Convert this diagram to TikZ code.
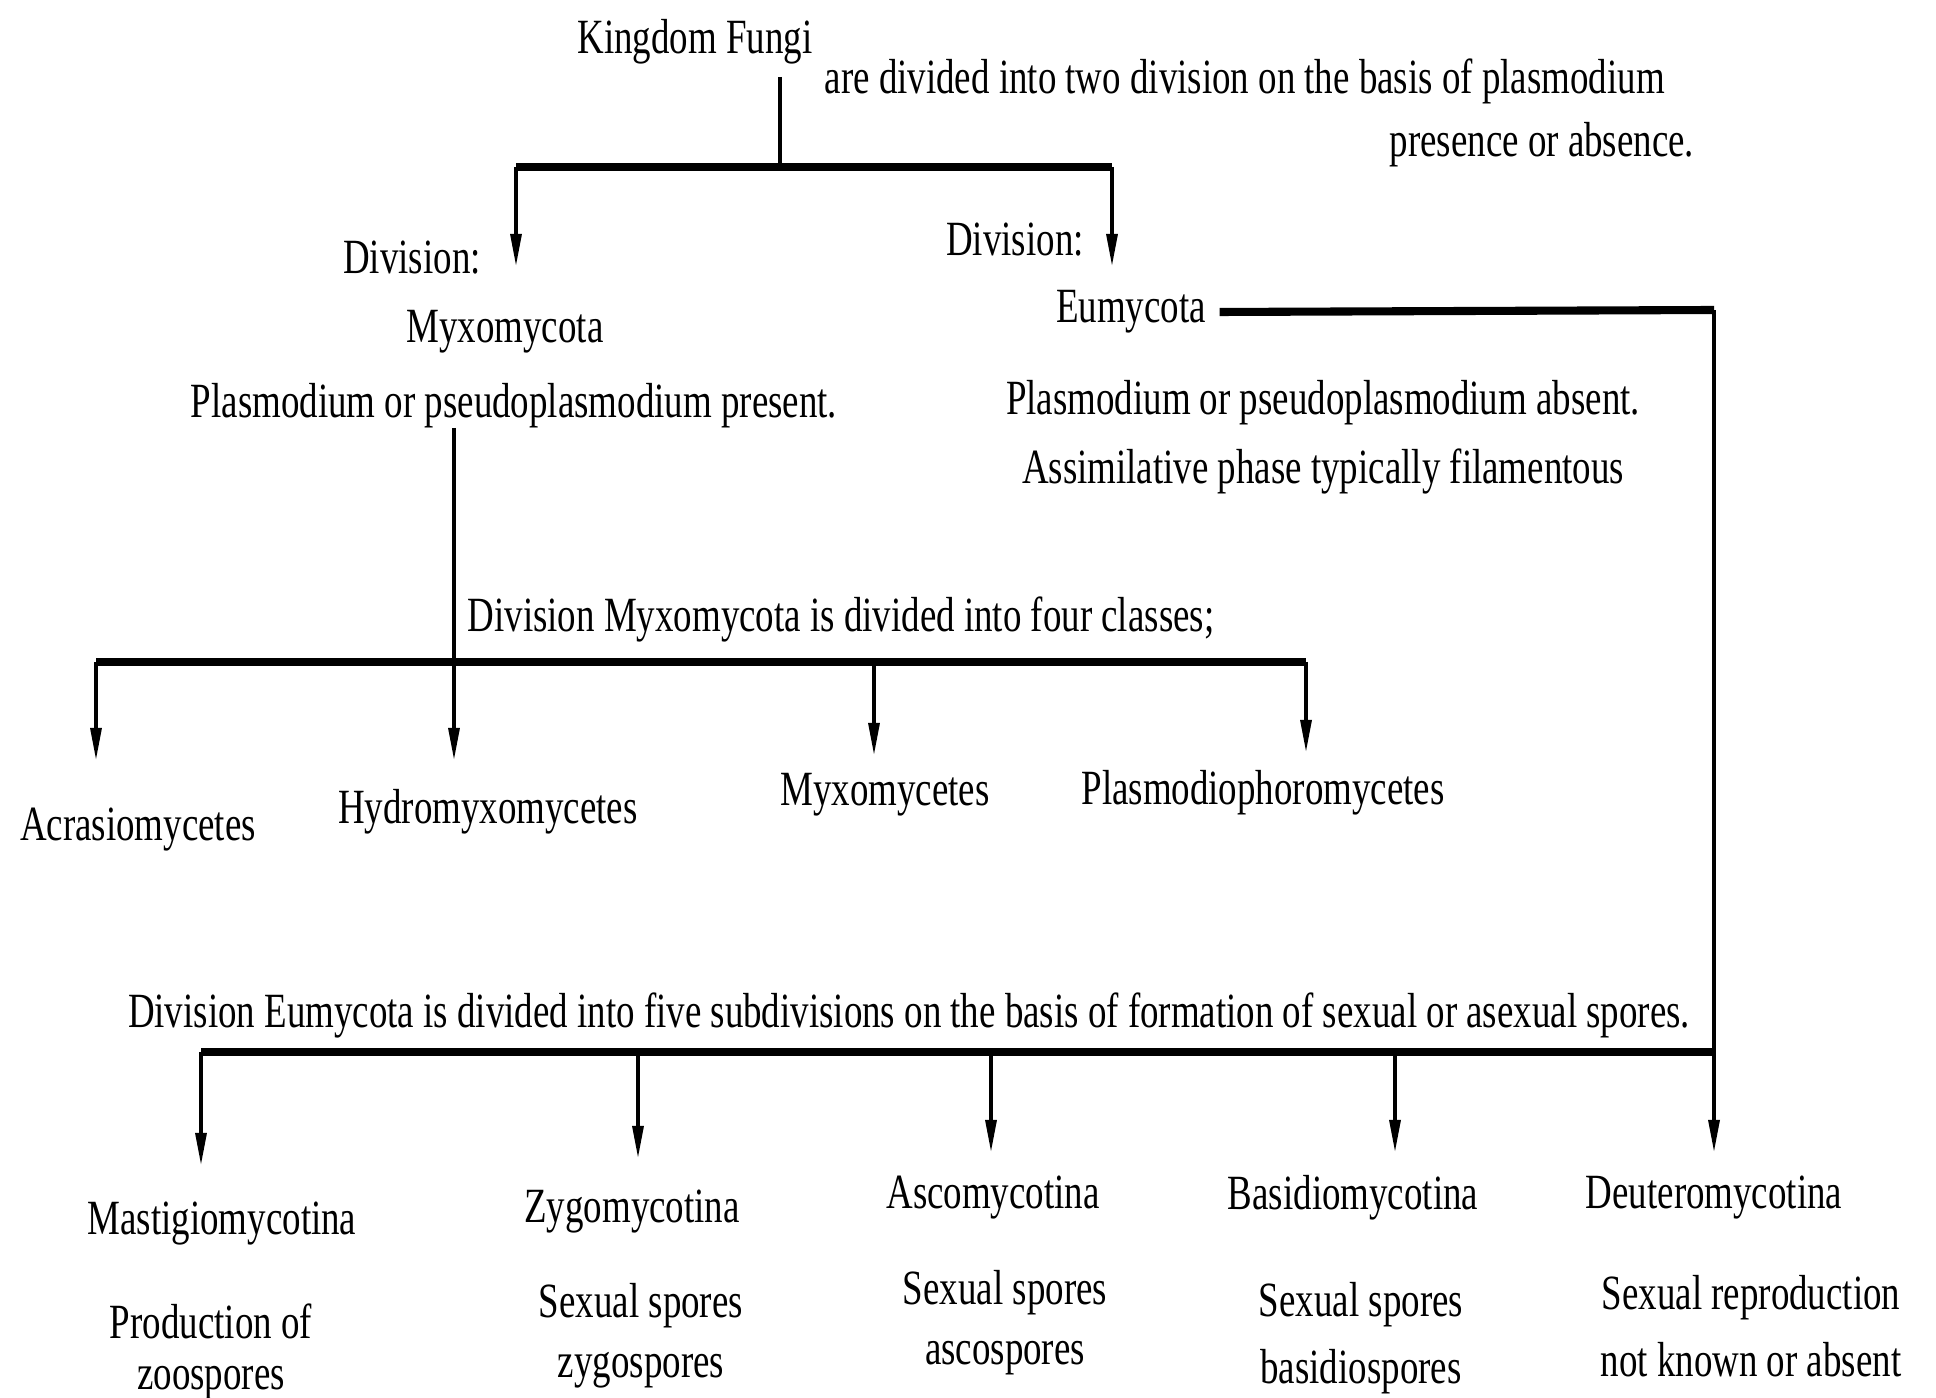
\documentclass[tikz,border=0pt]{standalone}
\usepackage{fontspec}
\setmainfont[FakeStretch=0.75]{Liberation Serif}
\usetikzlibrary{arrows.meta}

\tikzset{
  txt/.style={inner sep=0pt, align=center, yshift=-0.05cm, font=\fontsize{14}{17}\selectfont},
  bar/.style={line width=2.3pt},
  stem/.style={line width=0.9pt},
  arr/.style={line width=0.9pt, -{Triangle[length=0.32cm, width=0.11cm]}},
}

\begin{document}
\begin{tikzpicture}[x=0.01cm, y=-0.01cm]
	\useasboundingbox (0,0) rectangle (1936,1398);

	% kingdom and the two divisions
	\node[txt] (kingdom) at (695,37) {Kingdom Fungi};
	\node[txt, anchor=west] (basis) at (824,76) {are divided into two division on the basis of plasmodium};
	\node[txt, anchor=west] (basisb) at (1389,140) {presence or absence.};
	\node[txt] (divl) at (412,253) {Division:};
	\node[txt] (divr) at (1015,235) {Division:};
	\node[txt] (myxo) at (505,327) {Myxomycota};
	\node[txt] (eumy) at (1131,307) {Eumycota};
	\node[txt] (myxoinfo) at (514,401) {Plasmodium or pseudoplasmodium present.};
	\node[txt] (eumyinfo) at (1323,432) {Plasmodium or pseudoplasmodium absent.\\[0.09cm]Assimilative phase typically filamentous};

	\coordinate (ktop) at (780,77);
	\coordinate (kjoin) at (780,167);
	\coordinate (lj) at (516,167);
	\coordinate (rj) at (1112,167);
	\coordinate (ltip) at (516,266);
	\coordinate (rtip) at (1112,266);

	\draw[stem] (ktop) -- (kjoin);
	\draw[bar] (lj) -- (rj);
	\path (lj) edge[arr] (ltip)
	(rj) edge[arr] (rtip);

	% classes of Myxomycota
	\node[txt, anchor=west] (myxohead) at (467,614) {Division Myxomycota is divided into four classes;};
	\node[txt] (acra) at (138,825) {Acrasiomycetes};
	\node[txt] (hydro) at (488,807) {Hydromyxomycetes};
	\node[txt] (myxc) at (885,790) {Myxomycetes};
	\node[txt] (plas) at (1263,788) {Plasmodiophoromycetes};

	\coordinate (mtop) at (454,428);
	\coordinate (m1) at (96,662);
	\coordinate (m2) at (454,662);
	\coordinate (m3) at (874,662);
	\coordinate (m4) at (1306,662);
	\coordinate (t1) at (96,760);
	\coordinate (t2) at (454,760);
	\coordinate (t3) at (874,755);
	\coordinate (t4) at (1306,752);

	\draw[stem] (mtop) -- (m2);
	\draw[bar] (m1) -- (m4);
	\path (m1) edge[arr] (t1)
	(m2) edge[arr] (t2)
	(m3) edge[arr] (t3)
	(m4) edge[arr] (t4);

	% subdivisions of Eumycota
	\node[txt] (eumyhead) at (909,1010) {Division Eumycota is divided into five subdivisions on the basis of formation of sexual or asexual spores.};
	\node[txt] (masti) at (222,1219) {Mastigiomycotina};
	\node[txt] (zygo) at (632,1207) {Zygomycotina};
	\node[txt] (asco) at (993,1193) {Ascomycotina};
	\node[txt] (basid) at (1353,1193) {Basidiomycotina};
	\node[txt] (deut) at (1714,1193) {Deuteromycotina};
	\node[txt] (mastiinfo) at (211,1347) {Production of\\[-0.08cm]zoospores};
	\node[txt] (zygoinfo) at (641,1331) {Sexual spores\\zygospores};
	\node[txt] (ascoinfo) at (1005,1318) {Sexual spores\\ascospores};
	\node[txt] (basidinfo) at (1361,1333) {Sexual spores\\[0.07cm]basidiospores};
	\node[txt] (deutinfo) at (1751,1321) {Sexual reproduction\\[0.07cm]not known or absent};

	\coordinate (ecorner) at (1714,310);
	\coordinate (e1) at (201,1052);
	\coordinate (e2) at (638,1052);
	\coordinate (e3) at (991,1052);
	\coordinate (e4) at (1395,1052);
	\coordinate (e5) at (1714,1052);
	\coordinate (s1) at (201,1165);
	\coordinate (s2) at (638,1158);
	\coordinate (s3) at (991,1152);
	\coordinate (s4) at (1395,1152);
	\coordinate (s5) at (1714,1152);

	\draw[bar] ([xshift=0.13cm]eumy.east) -- (ecorner);
	\draw[stem] (ecorner) -- (e5);
	\draw[bar] (e1) -- (e5);
	\path (e1) edge[arr] (s1)
	(e2) edge[arr] (s2)
	(e3) edge[arr] (s3)
	(e4) edge[arr] (s4)
	(e5) edge[arr] (s5);
\end{tikzpicture}
\end{document}
